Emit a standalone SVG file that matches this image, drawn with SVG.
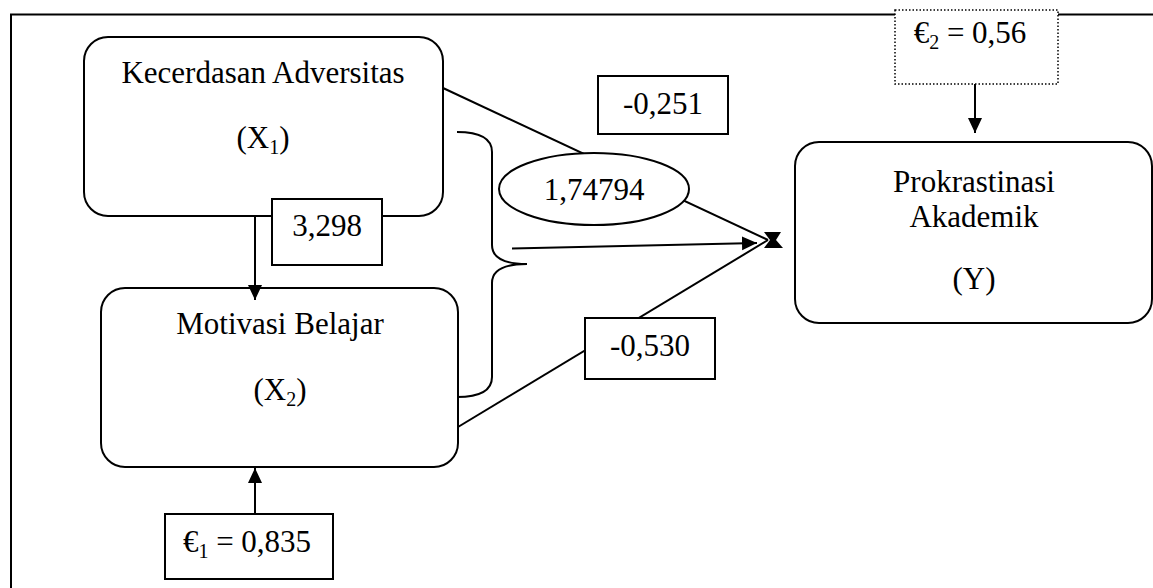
<svg xmlns="http://www.w3.org/2000/svg" width="1153" height="588" viewBox="0 0 1153 588">
<defs>
<style>
text{font-family:"Liberation Serif","Times New Roman",serif;font-size:31px;fill:#000;text-anchor:middle}
.node{fill:#fff;stroke:#000;stroke-width:2}
.box{fill:#fff;stroke:#000;stroke-width:2}
.dot{fill:#fff;stroke:#000;stroke-width:1.5;stroke-dasharray:1.5 2}
.ln{fill:none;stroke:#000;stroke-width:2}
.sub{font-size:20px}
</style>
<marker id="arr" markerUnits="userSpaceOnUse" markerWidth="16" markerHeight="16" refX="15" refY="7" orient="auto">
<path d="M0,0 L15,7 L0,14 z" fill="#000"/>
</marker>
</defs>
<rect width="1153" height="588" fill="#fff"/>
<g id="frame">
<path class="ln" d="M11,588 L11,14.5 L1153,14.5"/>
</g>
<g id="node-x1">
<rect class="node" x="84" y="37" width="359" height="179" rx="24"/>
<text x="263" y="83">Kecerdasan Adversitas</text>
<text x="263" y="148">(X<tspan class="sub" dy="6">1</tspan><tspan dy="-6">)</tspan></text>
</g>
<g id="node-x2">
<rect class="node" x="101" y="288" width="357" height="179" rx="24"/>
<text x="280" y="334">Motivasi Belajar</text>
<text x="280" y="400">(X<tspan class="sub" dy="6">2</tspan><tspan dy="-6">)</tspan></text>
</g>
<g id="node-y">
<rect class="node" x="795" y="142" width="357" height="181" rx="24"/>
<text x="974" y="192">Prokrastinasi</text>
<text x="974" y="227">Akademik</text>
<text x="974" y="289">(Y)</text>
</g>
<g id="connectors">
<line class="ln" x1="443" y1="88" x2="768" y2="240"/>
<line class="ln" x1="458" y1="427" x2="768" y2="240"/>
<line class="ln" x1="512" y1="248.5" x2="757" y2="243" marker-end="url(#arr)"/>
<path class="ln" d="M457,132 Q492,132 492,152 L492,245 Q492,264 527,264 Q492,264 492,283 L492,377 Q492,397 457,397"/>
<line class="ln" x1="255" y1="216" x2="255" y2="300" marker-end="url(#arr)"/>
<line class="ln" x1="255" y1="514" x2="255" y2="468" marker-end="url(#arr)"/>
<line class="ln" x1="975" y1="84" x2="975" y2="133" marker-end="url(#arr)"/>
<polygon points="764,232 781,232 776,240 783,248 764,248 770,240" fill="#000"/>
</g>
<g id="label-b1">
<ellipse class="node" cx="594" cy="189" rx="95" ry="36"/>
<text x="594" y="200">1,74794</text>
</g>
<g id="label-b251">
<rect class="box" x="598" y="76" width="130" height="58"/>
<text x="663" y="114">-0,251</text>
</g>
<g id="label-b3298">
<rect class="box" x="272" y="199" width="110" height="66"/>
<text x="327" y="236">3,298</text>
</g>
<g id="label-b530">
<rect class="box" x="585" y="318" width="130" height="61"/>
<text x="650" y="356">-0,530</text>
</g>
<g id="node-e1">
<rect class="box" x="165" y="514" width="168" height="65"/>
<text x="247" y="552">€<tspan class="sub" dy="6">1</tspan><tspan dy="-6"> = 0,835</tspan></text>
</g>
<g id="node-e2">
<rect class="dot" x="895" y="10" width="163" height="74"/>
<text x="970" y="43">€<tspan class="sub" dy="6">2</tspan><tspan dy="-6"> = 0,56</tspan></text>
</g>
</svg>
